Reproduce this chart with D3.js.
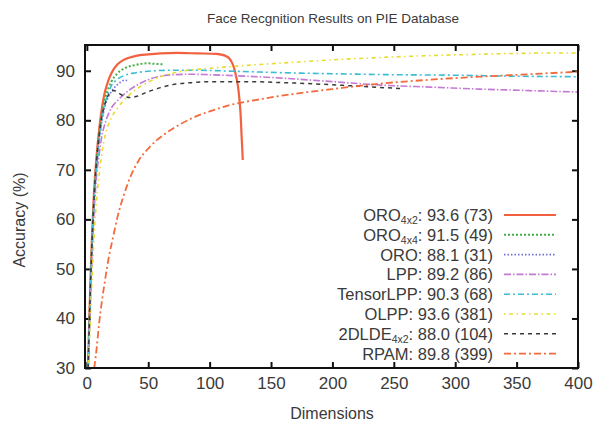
<!DOCTYPE html>
<html>
<head>
<meta charset="utf-8">
<script src="https://cdn.jsdelivr.net/npm/d3@7"></script>
<style>
  body { margin: 0; background: #fff; }
  text { font-family: "Liberation Sans", Arial, sans-serif; fill: #3a3a3a; }
</style>
</head>
<body>
<svg id="chart" width="596" height="426"></svg>
<script>
// [dimensions, accuracy %]
const oro4x2 = [[1,30],[2,40],[3,48],[4,55],[5,61],[6,66],[8,73],[10,78],[12,82],[15,86],[20,89.5],[25,91.3],[30,92.2],[40,93],[50,93.3],[60,93.5],[73,93.6],[90,93.5],[105,93.4],[112,93.1],[116,92.5],[119,91.2],[121,89.5],[123,87],[125,82],[126,77],[127,72]];
const oro4x4 = [[1,30],[2,39],[3,47],[4,54],[5,60],[6,65],[8,72],[10,77],[12,81],[15,84.5],[20,87.8],[25,89.5],[30,90.4],[40,91.2],[49,91.5],[55,91.4],[62,91.3]];
const oro = [[1,30],[2,38],[3,46],[4,53],[5,59],[6,64],[8,71],[10,76],[12,79.5],[15,83],[20,85.8],[25,87.2],[31,88.1],[33,88]];
const lpp = [[1,30],[2,37],[3,44],[4,51],[5,57],[6,62],[8,69],[10,73],[12,76.5],[15,79.5],[20,82.5],[25,84],[30,85.2],[40,87],[50,88.2],[60,88.9],[70,89.2],[86,89.3],[100,89.2],[130,88.9],[160,88.5],[200,87.8],[240,87.1],[280,86.7],[320,86.3],[360,86],[400,85.7]];
const tensorLpp = [[1,30],[2,38],[3,46],[4,53],[5,59],[6,64],[8,70.5],[10,75.5],[12,79.5],[15,83.5],[20,87],[25,88.3],[30,89],[40,89.6],[50,89.9],[68,90.1],[90,90.1],[120,89.9],[160,89.6],[200,89.4],[250,89.2],[300,89.1],[350,88.9],[400,88.8]];
const olpp = [[1,30],[2,35],[3,41],[4,47],[5,52],[6,57],[8,64],[10,69],[12,73],[15,77],[20,80.5],[25,82.5],[30,84],[40,86.2],[50,87.7],[60,88.8],[75,89.8],[100,90.5],[125,91],[155,91.5],[200,92.2],[250,92.8],[300,93.2],[350,93.5],[381,93.6],[400,93.6]];
const dlde4x2 = [[1,30],[2,39],[3,47],[4,54],[5,60],[6,65],[8,72],[10,77],[12,80.5],[15,83.5],[18,85.3],[22,86],[26,85.5],[30,84.9],[35,84.6],[40,84.8],[50,85.8],[60,86.6],[70,87.2],[85,87.6],[104,87.8],[130,87.8],[160,87.6],[190,87.3],[220,86.9],[256,86.4]];
const rpam = [[6,30],[8,34],[10,39],[12,43],[15,48],[18,52.5],[21,56],[25,60.5],[30,64.8],[35,68.3],[42,71.8],[50,74.3],[57,76],[65,77.5],[76,79.2],[90,80.9],[100,81.8],[117,83.1],[140,84.2],[157,84.9],[180,85.7],[200,86.3],[239,87.4],[280,88.2],[320,88.8],[360,89.3],[399,89.8]];

const seriesNames = ["ORO", "ORO", "ORO", "LPP", "TensorLPP", "OLPP", "2DLDE", "RPAM"];
const seriesSubs = ["4x2", "4x4", "", "", "", "", "4x2", ""];
const seriesResults = [": 93.6 (73)", ": 91.5 (49)", ": 88.1 (31)", ": 89.2 (86)", ": 90.3 (68)", ": 93.6 (381)", ": 88.0 (104)", ": 89.8 (399)"];
const seriesData = [oro4x2, oro4x4, oro, lpp, tensorLpp, olpp, dlde4x2, rpam];

const xTicks = d3.range(0, 401, 50);
const yTicks = d3.range(30, 91, 10);

const styles = [
  { color: "#f2603f", dash: null, width: 2.2 },
  { color: "#45b045", dash: "2 2", width: 2 },
  { color: "#6f6fdc", dash: "1.5 2", width: 1.6 },
  { color: "#c47ad4", dash: "7 2 1.5 2", width: 1.6 },
  { color: "#3dbcd6", dash: "6 3 2 3", width: 1.6 },
  { color: "#e6dc30", dash: "1.5 3.5 4 3.5", width: 1.6 },
  { color: "#3a3a3a", dash: "4 4", width: 1.5 },
  { color: "#f36a3c", dash: "7 3 2 3", width: 1.8 }
];

const svg = d3.select("#chart");
const frame = { left: 85, right: 578, top: 45, bottom: 368 };

const xScale = d3.scaleLinear().domain([-1.5, 400]).range([frame.left, frame.right]);
const yScale = d3.scaleLinear().domain([30, 95.2]).range([frame.bottom, frame.top]);

svg.append("defs").append("clipPath").attr("id", "plot-clip")
  .append("rect")
  .attr("x", frame.left).attr("y", frame.top)
  .attr("width", frame.right - frame.left).attr("height", frame.bottom - frame.top);

// title and axis labels
svg.append("text")
  .attr("x", 333).attr("y", 23)
  .attr("text-anchor", "middle")
  .style("font-size", "13.5px")
  .text("Face Recgnition Results on PIE Database");

svg.append("text")
  .attr("transform", "translate(25, 220) rotate(-90)")
  .attr("text-anchor", "middle")
  .style("font-size", "16px")
  .text("Accuracy (%)");

svg.append("text")
  .attr("x", 332).attr("y", 419)
  .attr("text-anchor", "middle")
  .style("font-size", "16px")
  .text("Dimensions");

// axes, ticks pointing inward on all four sides
const styleAxis = (g) => {
  g.select(".domain").remove();
  g.selectAll(".tick line").attr("stroke", "#111").attr("stroke-width", 2);
  g.selectAll(".tick text").style("font-size", "17px").attr("fill", "#3a3a3a");
};

svg.append("g")
  .attr("transform", `translate(0, ${frame.bottom})`)
  .call(d3.axisBottom(xScale).tickValues(xTicks).tickSize(-6).tickPadding(9))
  .call(styleAxis);

svg.append("g")
  .attr("transform", `translate(0, ${frame.top})`)
  .call(d3.axisTop(xScale).tickValues(xTicks).tickSize(-6).tickFormat(""))
  .call(styleAxis);

svg.append("g")
  .attr("transform", `translate(${frame.left}, 0)`)
  .call(d3.axisLeft(yScale).tickValues(yTicks).tickSize(-6).tickPadding(10))
  .call(styleAxis);

svg.append("g")
  .attr("transform", `translate(${frame.right}, 0)`)
  .call(d3.axisRight(yScale).tickValues(yTicks).tickSize(-6).tickFormat(""))
  .call(styleAxis);

// curves
const line = d3.line()
  .x((d) => xScale(d[0]))
  .y((d) => yScale(d[1]))
  .curve(d3.curveMonotoneX);

const lineDrop = d3.line()
  .x((d) => xScale(d[0]))
  .y((d) => yScale(d[1]))
  .curve(d3.curveCatmullRom);

const curves = svg.append("g").attr("clip-path", "url(#plot-clip)");
seriesData.forEach((data, i) => {
  curves.append("path")
    .datum(data)
    .attr("fill", "none")
    .attr("stroke", styles[i].color)
    .attr("stroke-width", styles[i].width)
    .attr("stroke-dasharray", styles[i].dash)
    .attr("stroke-linejoin", "round")
    .attr("d", i === 0 ? lineDrop(data) : line(data));
});

// frame
svg.append("rect")
  .attr("x", frame.left).attr("y", frame.top)
  .attr("width", frame.right - frame.left).attr("height", frame.bottom - frame.top)
  .attr("fill", "none")
  .attr("stroke", "#111")
  .attr("stroke-width", 2);

// legend
const legend = svg.append("g").attr("class", "legend");
const rowStep = 19.8;
seriesNames.forEach((name, i) => {
  const cy = 215 + i * rowStep;
  const label = legend.append("text")
    .attr("x", 493).attr("y", cy + 6)
    .attr("text-anchor", "end")
    .style("font-size", "16.5px");
  label.append("tspan").text(name);
  if (seriesSubs[i]) {
    label.append("tspan").attr("dy", 3).style("font-size", "10.5px").text(seriesSubs[i]);
    label.append("tspan").attr("dy", -3).text(seriesResults[i]);
  } else {
    label.append("tspan").text(seriesResults[i]);
  }

  legend.append("line")
    .attr("x1", 504).attr("x2", 556)
    .attr("y1", cy).attr("y2", cy)
    .attr("stroke", styles[i].color)
    .attr("stroke-width", styles[i].width)
    .attr("stroke-dasharray", styles[i].dash);
});
</script>
</body>
</html>
